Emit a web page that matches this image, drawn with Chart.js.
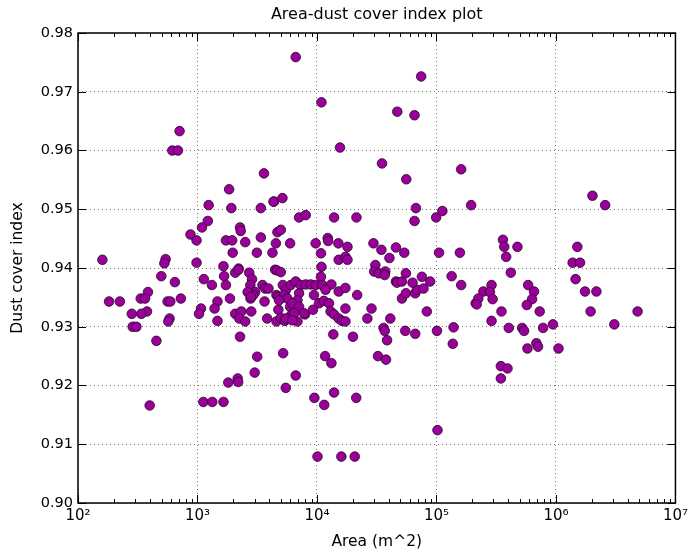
<!DOCTYPE html>
<html>
<head>
<meta charset="utf-8">
<script src="https://cdn.jsdelivr.net/npm/chart.js@4/dist/chart.umd.min.js"></script>
<style>
  html, body { margin: 0; padding: 0; background: #fff; }
  #wrap { width: 692px; height: 552px; }
</style>
</head>
<body>
<div id="wrap"><canvas id="dustChart" width="692" height="552"></canvas></div>
<script>
// values
const areas = [
    708, 615, 686, 3600, 1840, 1240, 1920, 3390, 4360, 1220,
    1090, 874, 982, 2270, 2300, 1730, 1950, 2510, 3390, 4530,
    1970, 3140, 4240, 160, 541, 528, 982, 1650, 2210, 2070,
    2200, 2710, 4470, 498, 1130, 1670, 2860, 647, 1320, 1730,
    2770, 3500, 3690, 3930, 385, 3040, 335, 364, 182, 224,
    562, 592, 726, 1870, 2780, 2930, 3640, 4580, 1470, 1070,
    1390, 378, 282, 339, 1030, 2070, 2330, 2820, 2240, 2510,
    3830, 4580, 584, 570, 1470, 287, 308, 2270, 453, 3160,
    3010, 2170, 2190, 1810, 1120, 1330, 1650, 398, 4330, 5140,
    4670, 4980, 5960, 4610, 4980, 5180, 5480, 6040, 2630, 2800,
    4730, 5310, 5660, 4750, 4980, 5380, 5960, 6100, 5210, 7080,
    8050, 13900, 21400, 9750, 12300, 12400, 15100, 18000, 10800, 15200,
    17300, 18000, 10900, 29700, 34600, 45800, 40400, 30800, 30100, 32900,
    37300, 36900, 10800, 45800, 6640, 7310, 8050, 8860, 9750, 11100,
    13200, 15200, 17300, 21700, 11800, 9440, 7080, 6860, 6220, 7080,
    10400, 11400, 12600, 9270, 7940, 6430, 6860, 13000, 13900, 15200,
    16200, 17300, 17300, 28600, 26400, 41100, 36100, 36900, 38600, 13700,
    20000, 6640, 5480, 9510, 11500, 13900, 21300, 11700, 13200, 32400,
    37800, 54800, 66400, 101000, 139000, 137000, 161000, 134000, 213000, 83000,
    51400, 55500, 66400, 68600, 46700, 51400, 55500, 63100, 75500, 77900,
    88500, 102000, 10100, 16000, 20700, 6640, 74500, 10900, 47000, 65500,
    15600, 35000, 55900, 161000, 67300, 65500, 99400, 112000, 195000, 53800,
    105000, 157000, 289000, 247000, 280000, 295000, 224000, 217000, 350000, 289000,
    2020000, 2580000, 360000, 369000, 383000, 476000, 419000, 1510000, 1380000, 1590000,
    1460000, 1750000, 2180000, 1950000, 585000, 655000, 631000, 570000, 731000, 403000,
    521000, 541000, 780000, 944000, 686000, 708000, 577000, 1050000, 3080000, 4820000,
    346000, 393000, 346000, 4820, 5480, 7800, 6220
];
const dustIndex = [
    0.9633, 0.9600, 0.9600, 0.9561, 0.9534, 0.9507, 0.9502, 0.9502, 0.9513, 0.9480,
    0.9469, 0.9457, 0.9447, 0.9469, 0.9463, 0.9447, 0.9447, 0.9444, 0.9452, 0.9442,
    0.9426, 0.9426, 0.9426, 0.9414, 0.9415, 0.9408, 0.9409, 0.9403, 0.9399, 0.9392,
    0.9397, 0.9392, 0.9397, 0.9386, 0.9381, 0.9386, 0.9381, 0.9376, 0.9371, 0.9371,
    0.9371, 0.9371, 0.9365, 0.9365, 0.9359, 0.9359, 0.9348, 0.9348, 0.9343, 0.9343,
    0.9343, 0.9343, 0.9348, 0.9348, 0.9348, 0.9354, 0.9343, 0.9354, 0.9343, 0.9331,
    0.9331, 0.9326, 0.9322, 0.9322, 0.9322, 0.9322, 0.9326, 0.9326, 0.9314, 0.9309,
    0.9314, 0.9309, 0.9314, 0.9309, 0.9310, 0.9300, 0.9300, 0.9283, 0.9276, 0.9249,
    0.9222, 0.9212, 0.9206, 0.9205, 0.9172, 0.9172, 0.9172, 0.9166, 0.9513, 0.9519,
    0.9461, 0.9465, 0.9442, 0.9396, 0.9393, 0.9371, 0.9362, 0.9371, 0.9359, 0.9351,
    0.9351, 0.9354, 0.9348, 0.9329, 0.9315, 0.9310, 0.9334, 0.9320, 0.9255, 0.9486,
    0.9490, 0.9486, 0.9486, 0.9442, 0.9451, 0.9446, 0.9442, 0.9436, 0.9425, 0.9414,
    0.9419, 0.9414, 0.9402, 0.9442, 0.9431, 0.9435, 0.9417, 0.9405, 0.9394, 0.9391,
    0.9394, 0.9388, 0.9385, 0.9377, 0.9377, 0.9371, 0.9372, 0.9372, 0.9371, 0.9371,
    0.9372, 0.9360, 0.9366, 0.9354, 0.9363, 0.9354, 0.9357, 0.9345, 0.9340, 0.9334,
    0.9340, 0.9344, 0.9340, 0.9329, 0.9321, 0.9323, 0.9309, 0.9326, 0.9321, 0.9314,
    0.9310, 0.9309, 0.9331, 0.9331, 0.9314, 0.9314, 0.9298, 0.9293, 0.9277, 0.9287,
    0.9283, 0.9217, 0.9196, 0.9179, 0.9167, 0.9188, 0.9179, 0.9250, 0.9238, 0.9250,
    0.9244, 0.9293, 0.9288, 0.9293, 0.9299, 0.9271, 0.9371, 0.9386, 0.9340, 0.9326,
    0.9348, 0.9357, 0.9357, 0.9363, 0.9375, 0.9377, 0.9391, 0.9375, 0.9385, 0.9365,
    0.9377, 0.9124, 0.9079, 0.9079, 0.9079, 0.9759, 0.9726, 0.9682, 0.9666, 0.9660,
    0.9605, 0.9578, 0.9551, 0.9568, 0.9502, 0.9480, 0.9486, 0.9497, 0.9507, 0.9426,
    0.9426, 0.9426, 0.9371, 0.9360, 0.9359, 0.9347, 0.9348, 0.9338, 0.9326, 0.9310,
    0.9523, 0.9507, 0.9448, 0.9436, 0.9419, 0.9436, 0.9392, 0.9436, 0.9409, 0.9409,
    0.9381, 0.9360, 0.9360, 0.9326, 0.9371, 0.9360, 0.9347, 0.9337, 0.9326, 0.9298,
    0.9298, 0.9293, 0.9298, 0.9304, 0.9272, 0.9266, 0.9263, 0.9263, 0.9304, 0.9326,
    0.9233, 0.9229, 0.9212, 0.9345, 0.9314, 0.9323, 0.9311
];
const xMajorTicks = [1e2, 1e3, 1e4, 1e5, 1e6, 1e7];
const xTickLabels = ['10²', '10³', '10⁴', '10⁵', '10⁶', '10⁷'];
const yMin = 0.90;
const yMax = 0.98;
const yStep = 0.01;

const points = areas.map((a, i) => ({ x: a, y: dustIndex[i] }));

// matplotlib-style inward ticks + black frame
const frameTicks = {
    id: 'frameTicks',
    afterDraw(chart) {
        const c = chart.ctx;
        const a = chart.chartArea;
        const xs = chart.scales.x;
        const ys = chart.scales.y;
        c.save();
        c.strokeStyle = '#000';
        c.lineWidth = 1;
        c.beginPath();
        for (let d = 0; d < xMajorTicks.length; d++) {
            const base = xMajorTicks[d];
            for (let m = 1; m <= 9; m++) {
                const v = base * m;
                if (v > 1e7) break;
                const px = Math.round(xs.getPixelForValue(v)) + 0.5;
                const len = m === 1 ? 8 : 4;
                c.moveTo(px, a.bottom); c.lineTo(px, a.bottom - len);
                c.moveTo(px, a.top); c.lineTo(px, a.top + len);
            }
        }
        for (let v = yMin; v <= yMax + 1e-9; v += yStep) {
            const py = Math.round(ys.getPixelForValue(v)) + 0.5;
            c.moveTo(a.left, py); c.lineTo(a.left + 8, py);
            c.moveTo(a.right, py); c.lineTo(a.right - 8, py);
        }
        c.stroke();
        c.lineWidth = 1.5;
        c.strokeRect(a.left, a.top, a.right - a.left, a.bottom - a.top);
        c.restore();
    }
};

const ctx = document.getElementById('dustChart');
new Chart(ctx, {
    type: 'scatter',
    data: {
        datasets: [{
            data: points,
            backgroundColor: '#990099',
            borderColor: '#2b002b',
            borderWidth: 0.8,
            pointRadius: 4.8,
            pointHoverRadius: 4.8
        }]
    },
    options: {
        responsive: false,
        animation: false,
        layout: { padding: { right: 14, left: 0, bottom: 0, top: 0 } },
        plugins: {
            legend: { display: false },
            tooltip: { enabled: false },
            title: {
                display: true,
                text: 'Area-dust cover index plot',
                fullSize: false,
                color: '#000',
                font: { family: 'DejaVu Sans', size: 16, weight: 'normal' },
                padding: { top: 5, bottom: 8.8 }
            }
        },
        scales: {
            x: {
                type: 'logarithmic',
                min: 1e2,
                max: 1e7,
                afterBuildTicks(scale) {
                    scale.ticks = xMajorTicks.map(v => ({ value: v }));
                },
                afterFit(scale) { scale.height = 49; },
                ticks: {
                    color: '#000',
                    font: { family: 'DejaVu Sans', size: 15 },
                    padding: 4,
                    maxRotation: 0,
                    autoSkip: false,
                    callback: (v) => xTickLabels[xMajorTicks.indexOf(v)]
                },
                grid: {
                    color: '#555',
                    lineWidth: 0.8,
                    drawTicks: false
                },
                // in v4 the grid line dash comes from border.dash
                border: { display: false, dash: [1, 3] },
                title: {
                    display: true,
                    text: 'Area (m^2)',
                    color: '#000',
                    font: { family: 'DejaVu Sans', size: 15.5 },
                    padding: { top: 0, bottom: 1 }
                }
            },
            y: {
                min: yMin,
                max: yMax,
                afterFit(scale) { scale.width = 78; },
                ticks: {
                    stepSize: yStep,
                    color: '#000',
                    font: { family: 'DejaVu Sans', size: 14.5 },
                    padding: 5,
                    callback: (v) => v.toFixed(2)
                },
                grid: {
                    color: '#555',
                    lineWidth: 0.8,
                    drawTicks: false
                },
                border: { display: false, dash: [1, 3] },
                title: {
                    display: true,
                    text: 'Dust cover index',
                    color: '#000',
                    font: { family: 'DejaVu Sans', size: 15.5 },
                    padding: { top: 9, bottom: 0 }
                }
            }
        }
    },
    plugins: [frameTicks]
});
</script>
</body>
</html>
